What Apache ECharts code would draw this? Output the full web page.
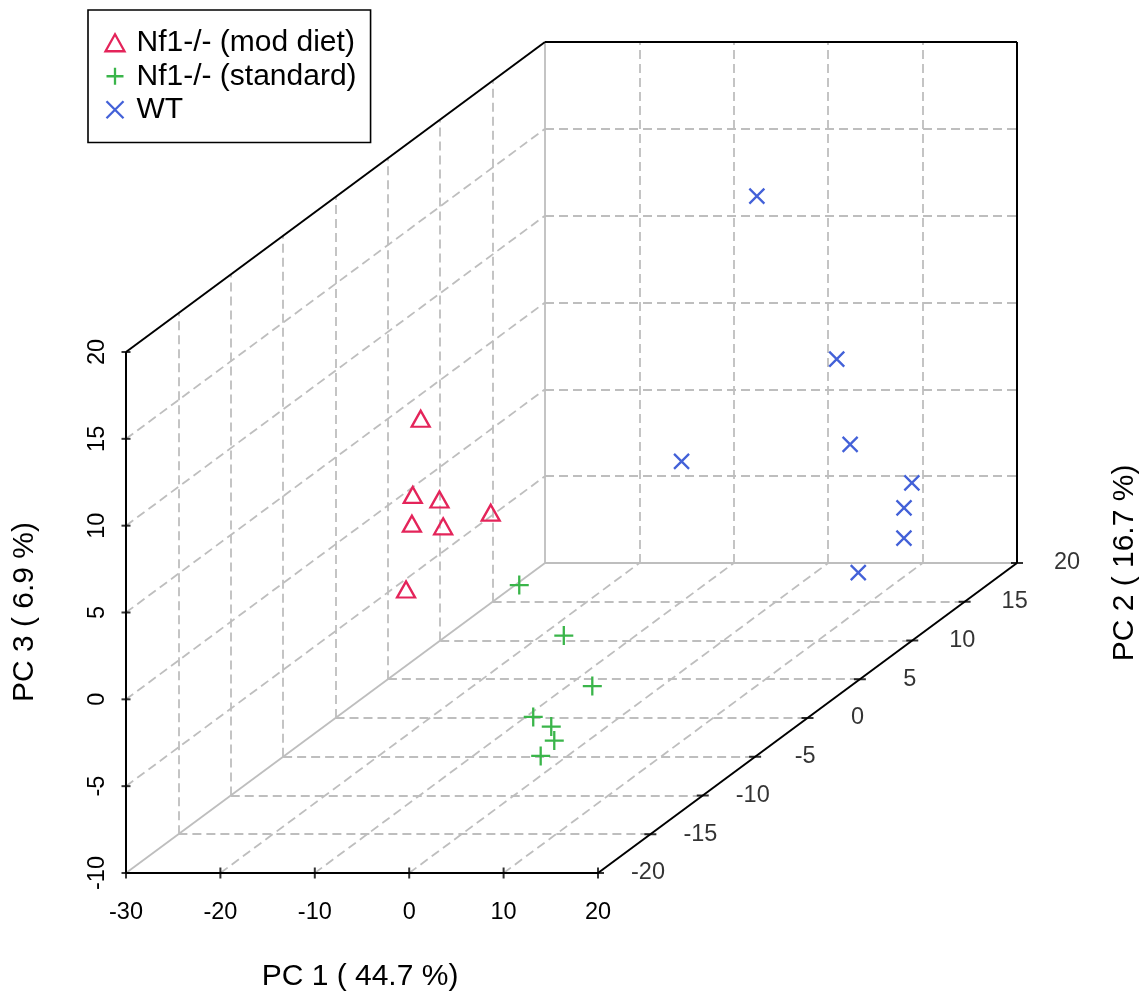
<!DOCTYPE html>
<html>
<head>
<meta charset="utf-8">
<script src="https://cdn.jsdelivr.net/npm/echarts@6/dist/echarts.min.js"></script>
<style>
  html, body { margin: 0; background: #fff; }
  #chart { width: 1145px; height: 999px; }
</style>
</head>
<body>
<div id="chart"></div>
<script>
// tick values of the three axes
const pc1Ticks = [-30, -20, -10, 0, 10, 20]
const pc2Ticks = [-20, -15, -10, -5, 0, 5, 10, 15, 20]
const pc3Ticks = [-10, -5, 0, 5, 10, 15, 20]

// Nf1-/- (mod diet)
const modPc1 = [-12.1, -8.5, -9.0, -9.7, -7.5, -6.9, -8.1]
const modPc2 = [-8, -12, -9, -11, -10, -6, -13]
const modPc3 = [10.8, 8.2, 6.6, 6.1, 5.5, 4.5, 3.2]
// Nf1-/- (standard)
const stdPc1 = [5.0, 7.5, 8.3, 8.7, 9.5, 7.6, 10.6]
const stdPc2 = [-14, -12, -10, -16, -15, -13, -17]
const stdPc3 = [3.9, 0.1, -3.7, -2.8, -3.8, -5.5, -4.6]
// WT
const wtPc1 = [-0.9, 12.0, 11.2, 0.0, 13.3, 15.8, 16.9, 16.5]
const wtPc2 = [14, 10, 12, 6, 16, 13, 12, 8]
const wtPc3 = [13.8, 6.2, 0.4, 2.1, -3.6, -3.7, -5.0, -5.2]

const groupNames = ['Nf1-/- (mod diet)', 'Nf1-/- (standard)', 'WT']
const groupColors = ['#E4245A', '#3AB54A', '#4361D8']

// --- oblique projection (scatterplot3d style) ---
const X0 = pc1Ticks[0], X1 = pc1Ticks[pc1Ticks.length - 1]
const Y0 = pc2Ticks[0], Y1 = pc2Ticks[pc2Ticks.length - 1]
const Z0 = pc3Ticks[0], Z1 = pc3Ticks[pc3Ticks.length - 1]
const pxPerX = 472 / (X1 - X0)
const pxPerZ = 521 / (Z1 - Z0)
const depthX = 419 / pxPerX   // shift of the back face, in pc1 units
const depthZ = 310 / pxPerZ   // shift of the back face, in pc3 units

function proj (x, y, z) {
  const t = (y - Y0) / (Y1 - Y0)
  return [x + t * depthX, z + t * depthZ]
}
const seg = (a, b) => ({ coords: [proj(...a), proj(...b)] })
const inner = arr => arr.slice(1, -1)

const blackEdges = [
  seg([X0, Y0, Z0], [X1, Y0, Z0]),
  seg([X0, Y0, Z0], [X0, Y0, Z1]),
  seg([X1, Y0, Z0], [X1, Y1, Z0]),
  seg([X1, Y1, Z0], [X1, Y1, Z1]),
  seg([X0, Y1, Z1], [X1, Y1, Z1]),
  seg([X0, Y0, Z1], [X0, Y1, Z1])
]
const greyEdges = [
  seg([X0, Y0, Z0], [X0, Y1, Z0]),
  seg([X0, Y1, Z0], [X0, Y1, Z1]),
  seg([X0, Y1, Z0], [X1, Y1, Z0])
]
const gridLines = []
inner(pc1Ticks).forEach(x => {
  gridLines.push(seg([x, Y0, Z0], [x, Y1, Z0]))   // floor
  gridLines.push(seg([x, Y1, Z0], [x, Y1, Z1]))   // back wall
})
inner(pc2Ticks).forEach(y => {
  gridLines.push(seg([X0, y, Z0], [X1, y, Z0]))   // floor
  gridLines.push(seg([X0, y, Z0], [X0, y, Z1]))   // left wall
})
inner(pc3Ticks).forEach(z => {
  gridLines.push(seg([X0, Y0, z], [X0, Y1, z]))   // left wall
  gridLines.push(seg([X0, Y1, z], [X1, Y1, z]))   // back wall
})

const pts = (a, b, c) => a.map((v, i) => proj(v, b[i], c[i]))

const font = 'Liberation Sans, Arial, sans-serif'
const symbols = [
  'triangle',
  'path://M10,0 L10,20 M0,10 L20,10',
  'path://M0,0 L20,20 M20,0 L0,20'
]
const symbolSizes = [[18, 16], 19, 15]
const groupData = [
  pts(modPc1, modPc2, modPc3),
  pts(stdPc1, stdPc2, stdPc3),
  pts(wtPc1, wtPc2, wtPc3)
]

const chart = echarts.init(document.getElementById('chart'))
chart.setOption({
  animation: false,
  backgroundColor: '#fff',
  grid: { left: 126, top: 873 - (Z1 - Z0 + depthZ) * pxPerZ, width: (X1 - X0 + depthX) * pxPerX, height: (Z1 - Z0 + depthZ) * pxPerZ },
  xAxis: {
    type: 'value',
    min: X0,
    max: X1 + depthX,
    interval: 10,
    axisLine: { show: false },
    axisTick: { show: false },
    splitLine: { show: false },
    axisLabel: {
      formatter: v => (v <= X1 ? String(v) : ''),
      fontSize: 23.5,
      fontFamily: font,
      color: '#000',
      margin: 28,
      showMaxLabel: false
    }
  },
  yAxis: {
    type: 'value',
    min: Z0,
    max: Z1 + depthZ,
    interval: 5,
    axisLine: { show: false },
    axisTick: { show: false },
    splitLine: { show: false },
    axisLabel: {
      formatter: v => (v <= Z1 ? String(v) : ''),
      rotate: 90,
      fontSize: 23.5,
      fontFamily: font,
      color: '#000',
      margin: 16,
      showMaxLabel: false
    }
  },
  legend: {
    left: 88,
    top: 10,
    orient: 'vertical',
    padding: [16, 14, 16, 15],
    borderColor: '#000',
    borderWidth: 1.6,
    itemGap: 0,
    itemWidth: 19,
    itemHeight: 17,
    textStyle: { fontSize: 30, fontFamily: font, color: '#000', lineHeight: 33.5, padding: [0, 0, 0, 7] },
    data: groupNames.map((n, i) => ({
      name: n,
      icon: symbols[i],
      itemStyle: { color: 'none', borderColor: groupColors[i], borderWidth: 2.3 }
    }))
  },
  graphic: [
    { type: 'text', x: 360, y: 977, style: { text: 'PC 1 ( 44.7 %)', font: '30px ' + font, fill: '#000', align: 'center', verticalAlign: 'middle' } },
    { type: 'text', x: 25, y: 612, rotation: Math.PI / 2, style: { text: 'PC 3 ( 6.9 %)', font: '30px ' + font, fill: '#000', align: 'center', verticalAlign: 'middle' } },
    { type: 'text', x: 1125, y: 563, rotation: Math.PI / 2, style: { text: 'PC 2 ( 16.7 %)', font: '30px ' + font, fill: '#000', align: 'center', verticalAlign: 'middle' } }
  ],
  series: [
    {
      type: 'lines',
      coordinateSystem: 'cartesian2d',
      silent: true,
      clip: false,
      z: 1,
      lineStyle: { color: '#bebebe', width: 1.8, type: [9, 5], opacity: 1 },
      data: gridLines
    },
    {
      type: 'lines',
      coordinateSystem: 'cartesian2d',
      silent: true,
      clip: false,
      z: 2,
      lineStyle: { color: '#bebebe', width: 1.8, type: 'solid', opacity: 1 },
      data: greyEdges
    },
    ...groupNames.map((n, i) => ({
      type: 'scatter',
      name: n,
      symbol: symbols[i],
      symbolSize: symbolSizes[i],
      clip: false,
      z: 3,
      itemStyle: { color: 'none', borderColor: groupColors[i], borderWidth: 2.3, opacity: 1 },
      data: groupData[i]
    })),
    {
      type: 'lines',
      coordinateSystem: 'cartesian2d',
      silent: true,
      clip: false,
      z: 4,
      lineStyle: { color: '#000', width: 2, type: 'solid', opacity: 1 },
      data: blackEdges
    },
    {
      // ticks along PC 1
      type: 'scatter',
      silent: true,
      clip: false,
      z: 4,
      symbol: 'rect',
      symbolSize: [2, 11],
      itemStyle: { color: '#000' },
      data: pc1Ticks.map(x => proj(x, Y0, Z0))
    },
    {
      // ticks along PC 3
      type: 'scatter',
      silent: true,
      clip: false,
      z: 4,
      symbol: 'rect',
      symbolSize: [9, 2],
      itemStyle: { color: '#000' },
      data: pc3Ticks.map(z => proj(X0, Y0, z))
    },
    {
      // ticks and labels along PC 2
      type: 'scatter',
      silent: true,
      clip: false,
      z: 4,
      symbol: 'rect',
      symbolSize: [12, 2],
      itemStyle: { color: '#000' },
      label: {
        show: true,
        position: 'inside',
        offset: [50, 0],
        formatter: '{b}',
        fontSize: 23.5,
        fontFamily: font,
        color: '#000',
        textBorderWidth: 0
      },
      data: pc2Ticks.map(y => ({ name: String(y), value: proj(X1, y, Z0) }))
    }
  ]
})
</script>
</body>
</html>
